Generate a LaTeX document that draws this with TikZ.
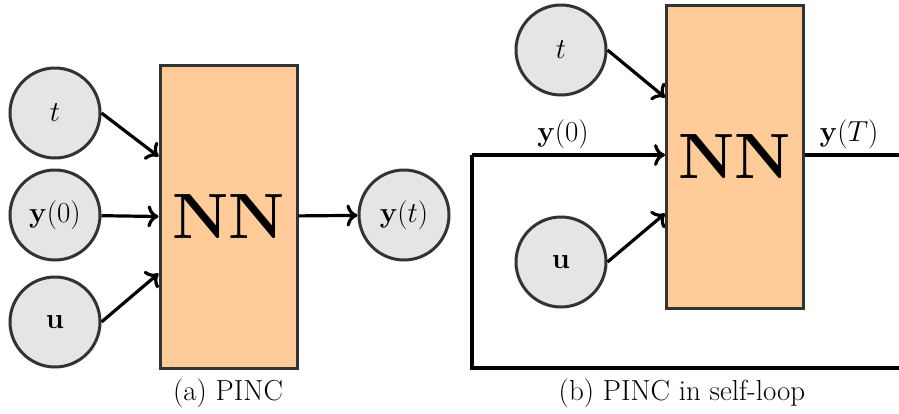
\RequirePackage{fix-cm}
\documentclass[tikz,border=0pt]{standalone}
\usetikzlibrary{arrows.meta}
\begin{document}
\begin{tikzpicture}[x=1pt,y=-1pt,
  every node/.style={font=\fontsize{29}{35}\selectfont},
  inp/.style={circle, draw=black!80, line width=3pt, fill=black!10, minimum size=90pt, inner sep=0pt},
  nnbox/.style={rectangle, draw=black!80, line width=3pt, fill=orange!40!white, minimum width=137pt, minimum height=303pt, inner sep=0pt, font=\fontsize{64}{64}\selectfont},
  conn/.style={line width=3.2pt, -{To[length=11pt,width=22pt]}},
  wire/.style={line width=3.2pt}]
\useasboundingbox (0,0) rectangle (899,413);
\clip (0,0) rectangle (899,413);
% (a)
\node[inp] (t1) at (55,113) {$t$};
\node[inp] (y01) at (55,215) {$\mathbf{y}(0)$};
\node[inp] (u1) at (55,322) {$\mathbf{u}$};
\node[nnbox] (nn1) at (228.5,216.5) {$\mathbf{NN}$};
\node[inp] (yt1) at (404,215) {$\mathbf{y}(t)$};
\draw[conn] (t1.east) -- ([yshift=60pt]nn1.west);
\draw[conn] (y01) -- (nn1.west);
\draw[conn] (u1.east) -- ([yshift=-57pt]nn1.west);
\draw[conn] (nn1) -- (yt1);
\node (capa) at (228,393) {(a) PINC};
% (b)
\node[inp] (t2) at (561,50) {$t$};
\node[inp] (u2) at (561,262) {$\mathbf{u}$};
\node[nnbox] (nn2) at (735,156.5) {$\mathbf{NN}$};
\coordinate (c1) at (906,155);
\coordinate (c2) at (906,368);
\coordinate (c3) at (472,368);
\coordinate (c4) at (472,155);
\draw[conn] (t2.east) -- ([yshift=59pt]nn2.west);
\draw[conn] (u2.east) -- ([yshift=-57pt]nn2.west);
\draw[wire] (nn2.east |- c1) -- (c1) -- (c2) -- (c3) -- (c4);
\draw[conn] (c4) -- (nn2.west |- c4);
\node (ly0) at (563,134) {$\mathbf{y}(0)$};
\node (lyT) at (849,134) {$\mathbf{y}(T)$};
\node (capb) at (682,393) {(b) PINC in self-loop};
\end{tikzpicture}
\end{document}
